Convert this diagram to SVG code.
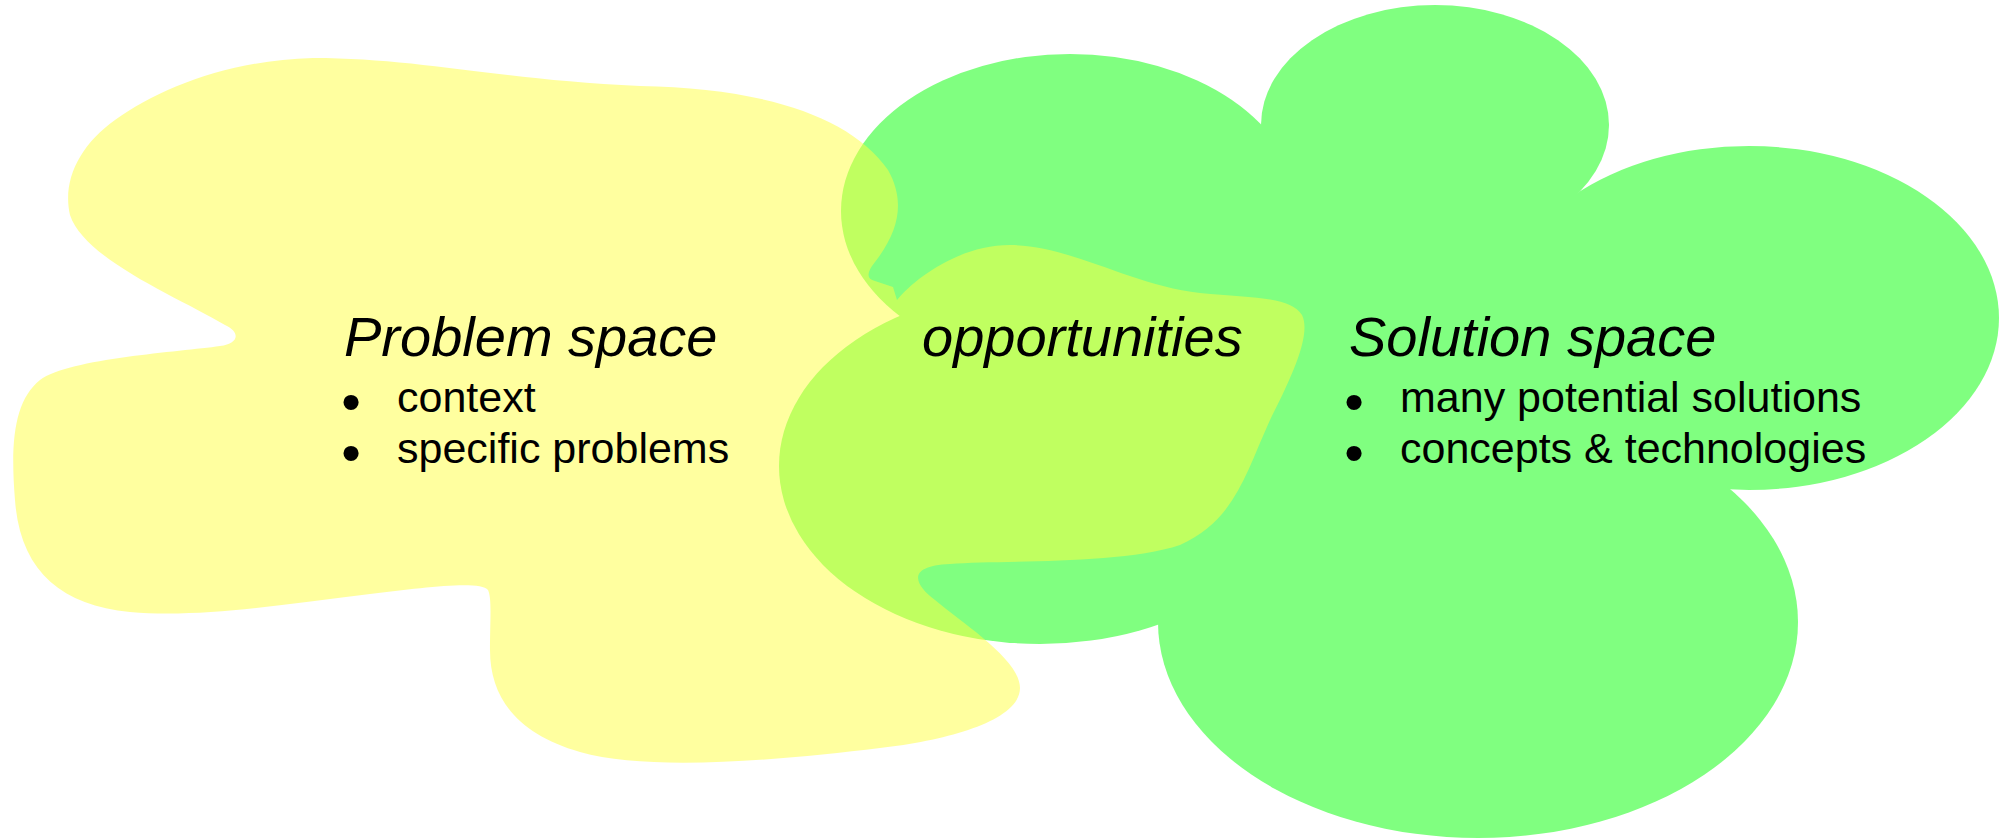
<svg xmlns="http://www.w3.org/2000/svg" width="2004" height="838" viewBox="0 0 2004 838">
<style>
.cloud{fill:#80ff80;stroke:none}
.blob{fill:rgb(255,255,64);fill-opacity:0.5;stroke:none}
.head{font-family:"Liberation Sans",Arial,sans-serif;font-style:italic;font-size:56px;fill:#000}
.item{font-family:"Liberation Sans",Arial,sans-serif;font-size:43px;fill:#000}
.bul{font-family:"Liberation Sans",Arial,sans-serif;font-size:56px;fill:#000;text-anchor:middle}
</style>
<rect width="2004" height="838" fill="#fff"/>
<g id="solution-space">
<g class="cloud">
<ellipse cx="1070" cy="211" rx="229" ry="157"/>
<ellipse cx="1435" cy="125" rx="174" ry="120"/>
<ellipse cx="1749" cy="318" rx="250" ry="172"/>
<ellipse cx="1478" cy="622" rx="320" ry="216"/>
<ellipse cx="1040" cy="466" rx="261" ry="178"/>
<polygon points="1070,211 1435,125 1749,318 1478,622 1040,466"/>
</g>
<text class="head" x="1349" y="356">Solution space</text>
<text class="bul" x="1354" y="421">•</text>
<text class="item" x="1400" y="412">many potential solutions</text>
<text class="bul" x="1354" y="472">•</text>
<text class="item" x="1400" y="463">concepts &amp; technologies</text>
</g>
<g id="problem-space">
<path class="blob" d="M313,58 C420,58 500,80 640,86 C760,88 850,115 888,170 C905,200 900,230 875,262 Q862,278 875,281 L893,287 L897,300 C915,278 960,245 1010,245 C1070,245 1130,285 1200,293 C1250,298 1290,296 1302,315 C1312,335 1290,380 1270,420 C1245,475 1235,520 1180,545 C1120,565 1000,560 950,564 C905,566 915,585 935,600 C965,625 1020,660 1020,688 C1020,720 950,740 880,748 C780,760 650,772 580,752 C520,735 490,700 490,650 C490,620 492,598 488,590 C480,580 420,588 370,594 C280,605 200,618 130,612 C60,605 20,570 15,500 C10,440 15,400 40,380 C70,358 180,352 220,346 C240,343 240,332 225,325 C180,298 85,260 70,215 C62,180 80,145 115,120 C160,88 230,60 313,58 Z"/>
<text class="head" x="344" y="356">Problem space</text>
<text class="bul" x="351" y="421">•</text>
<text class="item" x="397" y="412">context</text>
<text class="bul" x="351" y="472">•</text>
<text class="item" x="397" y="463">specific problems</text>
</g>
<g id="opportunities">
<text class="head" x="922" y="356">opportunities</text>
</g>
<g id="connectors"/>
</svg>
